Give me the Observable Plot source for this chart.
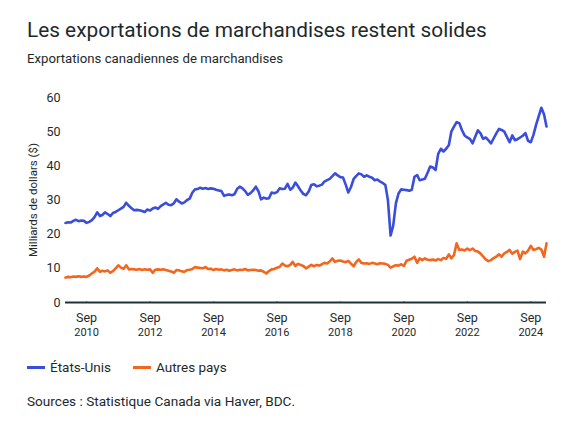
<!DOCTYPE html>
<html>
<head>
<meta charset="utf-8">
<script src="https://cdn.jsdelivr.net/npm/d3@7"></script>
<script src="https://cdn.jsdelivr.net/npm/@observablehq/plot@0.6"></script>
<style>
  html, body { margin: 0; padding: 0; background: #fff; }
  body { width: 575px; height: 431px; position: relative; overflow: hidden; font-family: Roboto, "Noto Sans", sans-serif; color: #1d2a2c; }
  #title { position: absolute; left: 27px; top: 18px; font-size: 20.8px; font-weight: 400; white-space: nowrap; }
  #subtitle { position: absolute; left: 27px; top: 51px; font-size: 13.2px; white-space: nowrap; }
  #chart { position: absolute; left: 0; top: 72px; }
  #legend { position: absolute; left: 27px; top: 359px; font-size: 13.5px; display: flex; align-items: center; white-space: nowrap; }
  #legend .sw { display: inline-block; width: 18px; height: 3px; margin-right: 5px; }
  #legend .item { display: flex; align-items: center; margin-right: 22px; }
  #source { position: absolute; left: 27px; top: 393px; font-size: 13.6px; white-space: nowrap; }
</style>
</head>
<body>
<div id="title">Les exportations de marchandises restent solides</div>
<div id="subtitle">Exportations canadiennes de marchandises</div>
<div id="chart"></div>
<div id="legend"></div>
<div id="source">Sources : Statistique Canada via Haver, BDC.</div>
<script>
// Monthly series, Jan 2010 – Mar 2025 (billions of dollars)
const startYear = 2010;
const seriesNames = ["États-Unis", "Autres pays"];
const seriesColors = ["#3a4ddb", "#f2671f"];
const usValues = [
  23.3, 23.5, 23.4, 23.9, 24.2, 23.8, 24.0, 23.9, 23.3, 23.6, 24.1, 25.0,
  26.4, 25.3, 25.6, 26.4, 25.9, 25.3, 26.2, 26.5, 27.0, 27.5, 28.0, 29.2,
  28.3, 27.6, 27.0, 27.1, 27.0, 26.8, 26.5, 27.2, 26.9, 27.5, 27.8, 27.4,
  28.2, 28.7, 29.2, 28.6, 28.5, 29.0, 30.2, 29.5, 29.0, 29.3, 30.0, 30.4,
  32.2, 33.1, 33.2, 33.6, 33.3, 33.5, 33.2, 33.4, 33.3, 33.0, 32.8, 32.6,
  31.2, 31.5, 31.6, 31.4, 31.7, 33.3, 33.9, 33.4, 32.6, 31.5, 32.0, 32.8,
  33.9, 32.5, 30.2, 30.7, 30.4, 30.5, 32.2, 32.0, 32.3, 33.4, 33.2, 33.3,
  34.7, 33.0, 33.6, 35.1, 34.0, 32.8, 31.8, 31.4, 32.5, 34.4, 34.6, 34.0,
  34.2, 34.5, 35.4, 35.8, 36.2, 37.0, 37.8, 37.2, 36.7, 36.6, 34.5, 32.2,
  33.8, 36.2, 37.0, 37.8, 37.5, 36.8, 37.2, 36.8, 36.5, 35.8, 36.0, 35.4,
  35.0, 34.4, 30.0, 19.6, 22.5, 29.0, 31.9, 33.1, 33.0, 32.9, 32.7, 33.0,
  36.8, 37.3, 35.8, 36.0, 36.2, 38.0, 39.8, 39.5, 38.8, 43.5, 45.0, 44.2,
  45.0, 46.1, 50.0, 51.5, 52.8, 52.5, 50.5, 48.9, 48.3, 47.9, 46.6, 48.5,
  50.4, 49.5, 47.9, 48.3, 47.5, 46.6, 48.0, 49.5, 50.8, 50.5, 50.0, 48.5,
  46.9, 48.9, 47.5, 47.8, 48.3, 48.8, 49.6, 47.3, 46.9, 49.0, 52.0, 54.5,
  57.0, 55.0, 51.5
];
const otherValues = [
  7.3, 7.5, 7.4, 7.6, 7.5, 7.7, 7.5, 7.6, 7.5, 7.9, 8.5, 9.0,
  10.0, 9.0, 9.3, 9.1, 9.4, 8.7, 9.2, 10.0, 10.9, 10.2, 9.9, 10.9,
  9.7, 9.8, 9.7, 9.6, 9.8, 9.5, 9.7, 9.6, 9.7, 8.7, 9.6, 9.7,
  9.6, 9.7, 9.5, 9.3, 9.1, 8.7, 9.5, 9.4, 9.1, 9.0, 9.5, 9.6,
  9.8, 10.4, 10.2, 10.1, 10.0, 10.4, 9.8, 9.9, 9.5, 9.8, 9.6, 9.7,
  9.4, 9.6, 9.3, 9.5, 9.7, 9.4, 9.6, 9.5, 9.8, 9.4, 9.5, 9.6,
  9.5, 9.3, 9.4, 9.0, 8.5, 9.2, 9.7, 9.8, 10.2, 10.4, 11.4, 10.8,
  10.6, 11.0, 11.9, 10.7, 11.3, 11.0, 10.7, 10.0, 10.5, 11.0, 10.6, 11.0,
  10.8, 11.2, 11.6, 11.4, 12.0, 12.9, 11.9, 12.2, 12.3, 12.0, 11.8, 12.2,
  11.4, 10.6, 11.8, 12.6, 11.6, 11.4, 11.5, 11.3, 11.6, 11.4, 11.2, 11.5,
  11.4, 11.3, 11.0, 10.2, 10.6, 10.9, 10.8, 11.2, 10.7, 12.2, 12.5, 12.8,
  13.4, 11.6, 12.9, 12.4, 12.9, 12.5, 12.4, 12.6, 12.3, 12.7, 12.4, 13.0,
  12.8, 14.1, 12.9, 13.9, 17.3, 15.4, 15.5, 15.2, 15.8, 15.3, 15.8, 15.1,
  14.9, 14.3, 13.5, 12.6, 12.1, 12.4, 13.0, 13.4, 14.1, 13.4, 14.4, 14.8,
  15.4, 14.3, 14.8, 15.2, 12.7, 14.9, 14.4, 15.2, 16.6, 15.4, 15.6, 16.0,
  15.5, 13.4, 17.3
];
const yTicks = [0, 10, 20, 30, 40, 50, 60];
const xTickYears = [2010, 2012, 2014, 2016, 2018, 2020, 2022, 2024];
const xTickMonthLabel = "Sep";
const yLabel = "Milliards de dollars ($)";

const rows = [];
[usValues, otherValues].forEach((vals, s) => {
  vals.forEach((v, i) => rows.push({date: new Date(startYear, i, 1), value: v, series: seriesNames[s]}));
});
const xTicks = xTickYears.map(y => new Date(y, 8, 1));
const xDomain = [new Date(startYear, 0, 1), new Date(startYear, usValues.length - 1, 1)];
const textColor = "#1d2a2c";

const chart = Plot.plot({
  width: 575,
  height: 280,
  marginTop: 25,
  marginBottom: 50,
  marginLeft: 65,
  marginRight: 29,
  style: {fontFamily: "Roboto, 'Noto Sans', sans-serif", color: textColor, background: "#fff"},
  x: {type: "utc", domain: xDomain, axis: null},
  y: {domain: [0, 60], axis: null},
  color: {domain: seriesNames, range: seriesColors},
  marks: [
    Plot.axisY(yTicks, {tickSize: 0, tickPadding: 5, fontSize: 12.5, label: null, fill: textColor}),
    Plot.text([yLabel], {frameAnchor: "left", textAnchor: "middle", dx: -32, rotate: -90, fontSize: 11.5, fill: textColor}),
    Plot.line(rows, {x: "date", y: "value", z: "series", stroke: "series", strokeWidth: 2.6, strokeLinejoin: "round", strokeLinecap: "round"}),
    Plot.ruleY([0], {stroke: "#1f3436", strokeWidth: 2.2}),
    Plot.ruleX(xTicks, {x: d => d, y1: 0, y2: 0.12, stroke: "#1f3436", strokeWidth: 1.3}),
    Plot.text(xTicks, {x: d => d, y: 0, text: () => xTickMonthLabel, dy: 15, fontSize: 12.5, fill: textColor}),
    Plot.text(xTicks, {x: d => d, y: 0, text: d => String(d.getFullYear()), dy: 30, fontSize: 11, fill: textColor})
  ]
});
document.getElementById("chart").appendChild(chart);

const legend = document.getElementById("legend");
seriesNames.forEach((n, i) => {
  const item = document.createElement("span");
  item.className = "item";
  const sw = document.createElement("span");
  sw.className = "sw";
  sw.style.background = seriesColors[i];
  item.appendChild(sw);
  item.appendChild(document.createTextNode(n));
  legend.appendChild(item);
});
</script>
</body>
</html>
